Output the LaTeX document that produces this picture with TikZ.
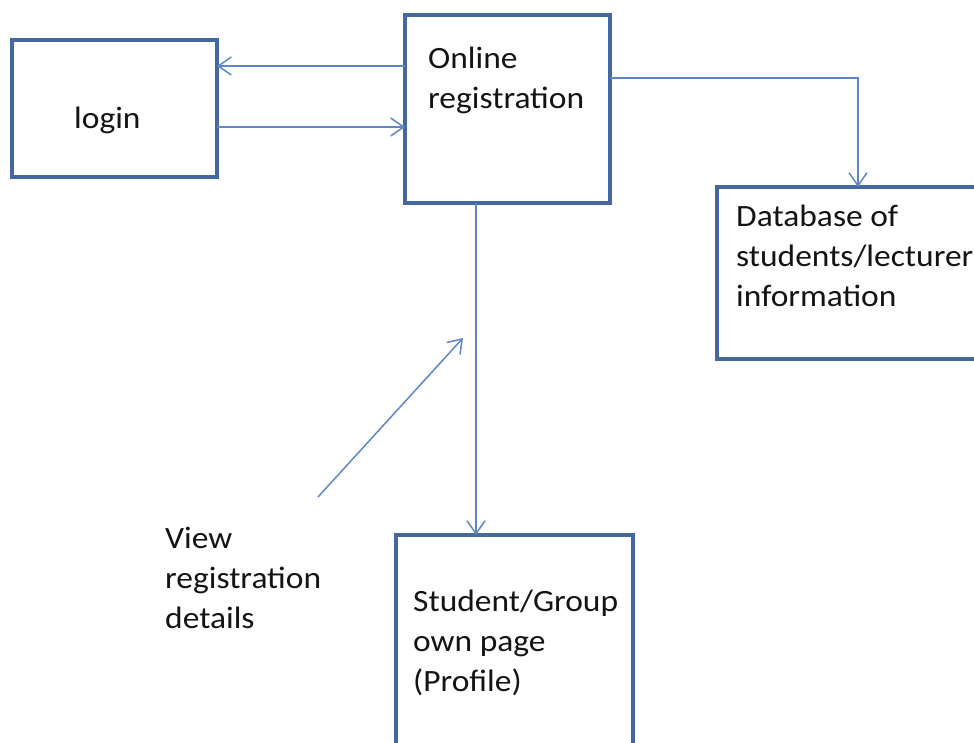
\documentclass[tikz,border=0pt]{standalone}
\usepackage{fontspec}
\setmainfont{Carlito}[FakeStretch=1.08]
\usetikzlibrary{arrows.meta}
\definecolor{boxblue}{RGB}{70,104,160}
\definecolor{connblue}{RGB}{95,135,200}
\definecolor{txtblack}{RGB}{20,20,20}
\begin{document}
\begin{tikzpicture}[x=1pt,y=-1pt,
  box/.style={draw=boxblue, line width=4pt, fill=white, inner sep=0pt, outer sep=0pt, anchor=north west, rectangle},
  conn/.style={draw=connblue, line width=1.5pt, -{Straight Barb[length=13pt,width=18pt,line width=1.5pt]}},
  txt/.style={anchor=base west, inner sep=0pt, align=left, text=txtblack, font=\fontsize{31}{40}\selectfont}]
\useasboundingbox (0,0) rectangle (974,742);
\clip (0,0) rectangle (974,742);
\fill[white] (0,0) rectangle (974,742);
% boxes
\node[box, minimum width=205pt, minimum height=137pt] (login) at (12,40) {};
\node[box, minimum width=205pt, minimum height=188pt] (online) at (405,15) {};
\node[box, minimum width=290pt, minimum height=172pt] (db) at (717,187) {};
\node[box, minimum width=237pt, minimum height=250pt] (student) at (396,535) {};
% texts (anchor = baseline of the last line)
\node[txt] (tlogin) at (74,128) {login};
\node[txt] (tonline) at (428,108) {Online\\registration};
\node[txt] (tdb) at (736,306) {Database of\\students/lecturer\\information};
\node[txt] (tstudent) at (413,691) {Student/Group\\own page\\(Profile)};
\node[txt] (tview) at (165,628) {View\\registration\\details};
% connectors
\draw[conn] (online.west |- 0,66) -- (login.east |- 0,66);
\draw[conn] (login.east |- 0,127) -- (online.west |- 0,127);
\draw[conn] (online.east |- 0,78) -| (db.north -| 858,0);
\draw[conn] (online.south -| 476,0) -- (student.north -| 476,0);
\coordinate (vstart) at (318,497);
\coordinate (vend) at (463,338);
\draw[conn] (vstart) -- (vend);
\end{tikzpicture}
\end{document}
